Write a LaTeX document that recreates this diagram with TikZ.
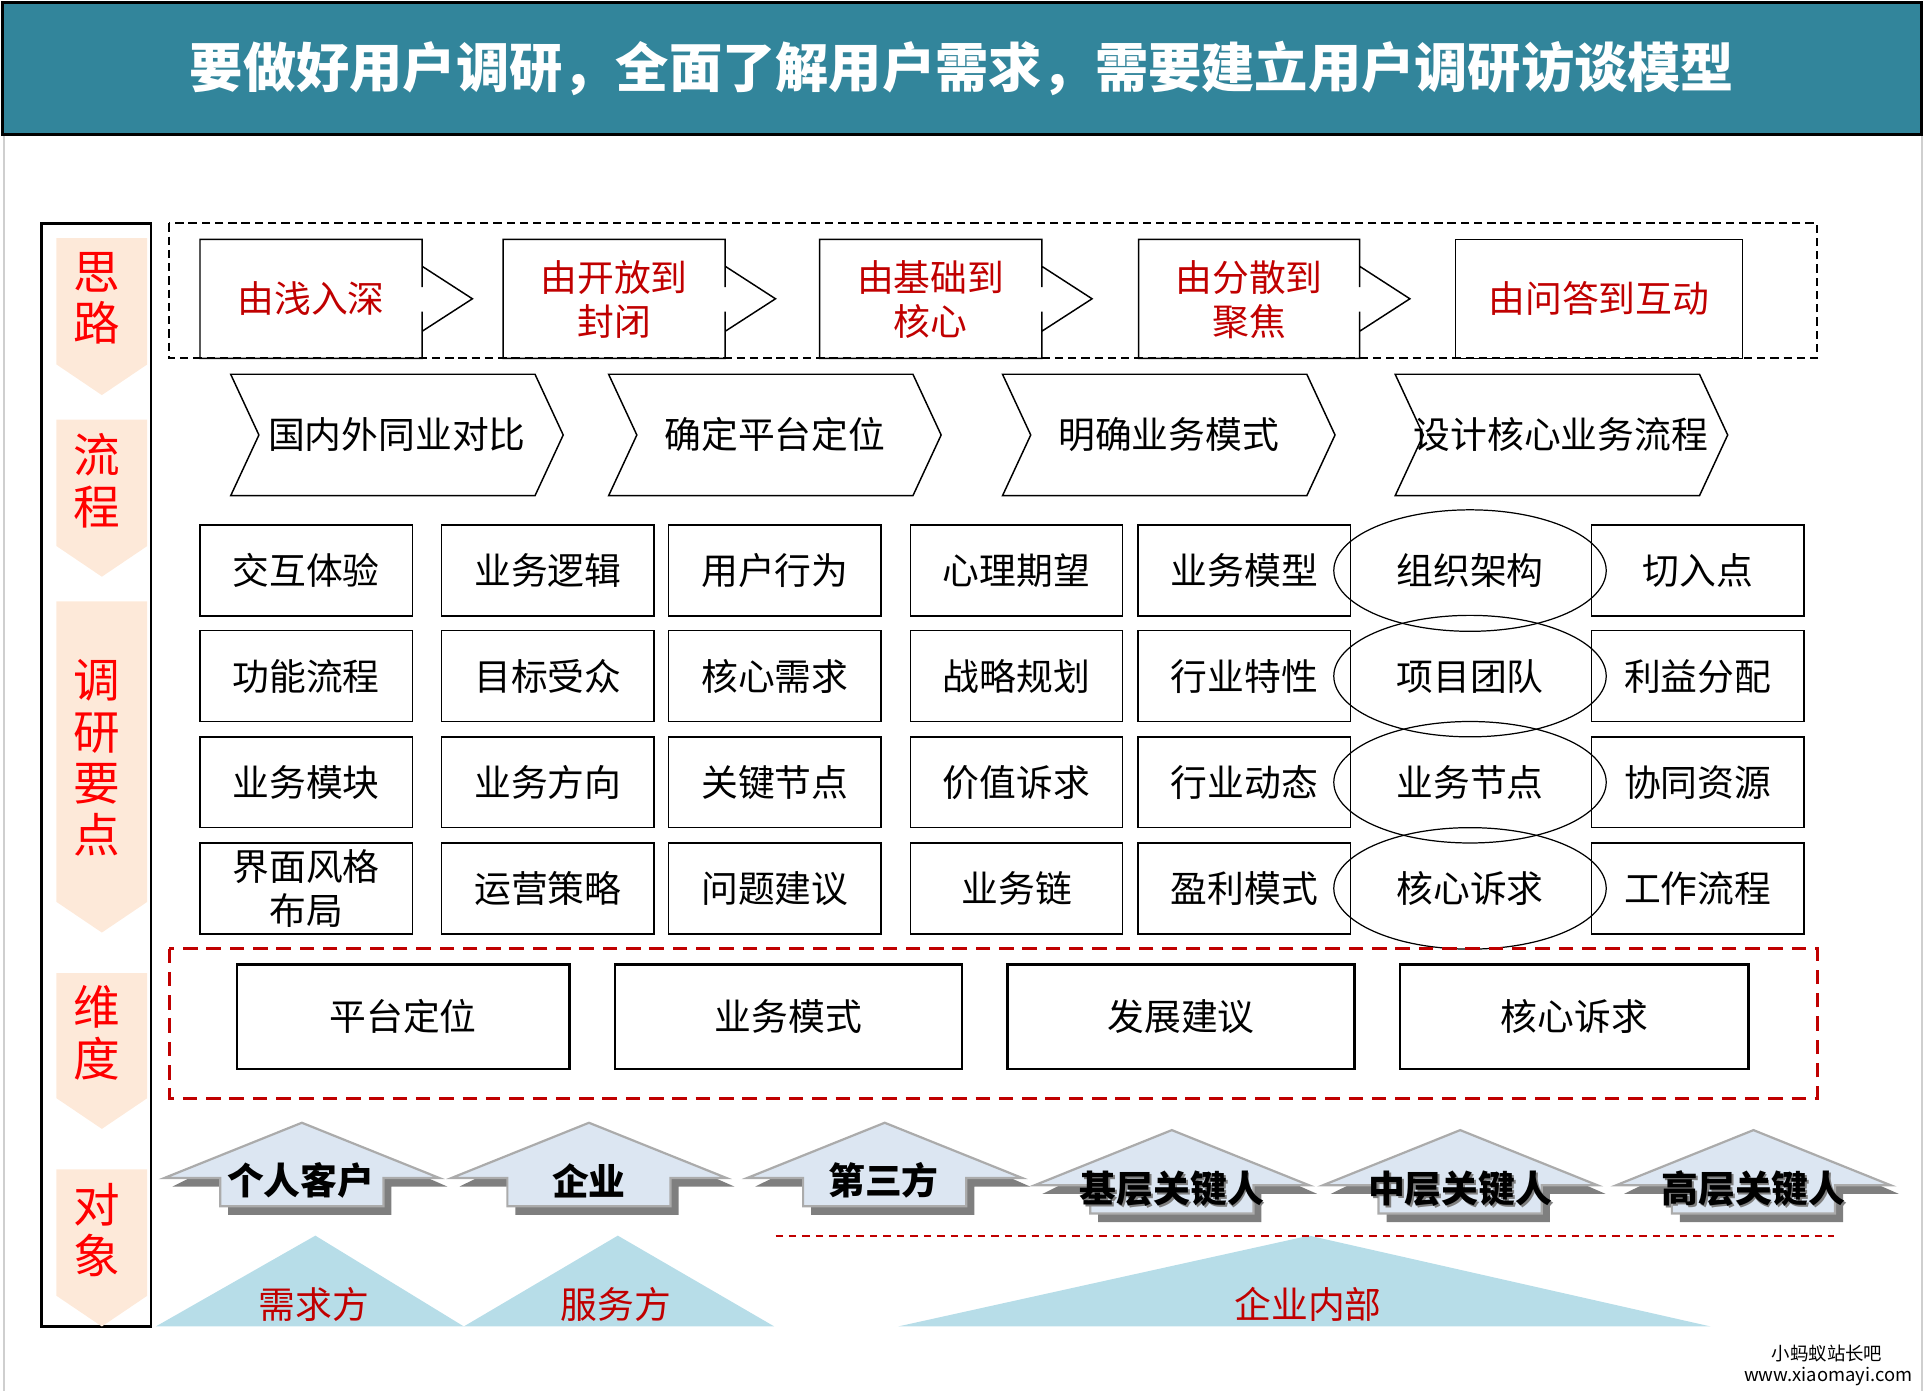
\documentclass[tikz,border=0pt]{standalone}
\usepackage{fontspec}
\setmainfont{Noto Sans CJK SC}
\usetikzlibrary{shapes.geometric}
\definecolor{titlebg}{HTML}{32859B}
\definecolor{peach}{HTML}{FDE9D9}
\definecolor{dred}{HTML}{C00000}
\definecolor{arrowfill}{HTML}{DCE6F2}
\definecolor{arrowline}{HTML}{ABABAB}
\definecolor{shadowgray}{HTML}{7F7F7F}
\definecolor{tri}{HTML}{B7DDE8}
\definecolor{pagegray}{HTML}{CFCFCF}
\tikzset{
  txt/.style={font=\fontsize{15}{18}\selectfont, align=center, inner sep=0pt},
  redtxt/.style={txt, text=dred},
  sidetxt/.style={font=\fontsize{19}{21}\selectfont, text=red, align=center, inner sep=0pt},
  gridbox/.style={txt, draw, line width=0.6pt, minimum width=86.5pt, minimum height=37pt},
  ellbox/.style={txt, draw, ellipse, line width=0.5pt, minimum width=111pt, minimum height=49.5pt},
  dimbox/.style={txt, draw, line width=1pt, minimum height=42.5pt},
  objtxt/.style={font=\fontsize{15}{18}\selectfont\bfseries, inner sep=0pt},
  thinline/.style={line width=0.6pt, line join=miter},
  sidearrow/.style={fill=peach},
  objarrow/.style={draw=arrowline, fill=arrowfill, line width=0.9pt, line join=miter},
}
\begin{document}
\begin{tikzpicture}[x=0.5pt,y=-0.5pt]
\useasboundingbox (0,0) rectangle (1568,1134);
% page edges
\draw[pagegray, line width=0.8pt] (3,110) -- (3,1134);
\draw[pagegray, line width=0.8pt] (1566,110) -- (1566,1134);
% title
\draw[fill=titlebg, line width=1.2pt] (2,2) rectangle (1566,110);
\node[font=\fontsize{21.7}{26}\selectfont\bfseries, text=white, inner sep=0pt] (title) at (784,56)
  {要做好用户调研，全面了解用户需求，需要建立用户调研访谈模型};
% left column frame
\draw[line width=1pt] (34,182) rectangle (123,1081);
\foreach \t/\b in {194/297, 342/445, 490/735, 793/895, 953/1056}
  \fill[sidearrow] (46,\t) -- (120,\t) -- (120,\b) -- (83,{\b+25}) -- (46,\b) -- cycle;
\node[sidetxt] (s1) at (79,243) {思\\路};
\node[sidetxt] (s2) at (79,392) {流\\程};
\node[sidetxt] (s3) at (79,617.5) {调\\研\\要\\点};
\node[sidetxt] (s4) at (79,841.5) {维\\度};
\node[sidetxt] (s5) at (79,1002.5) {对\\象};
% thinking row
\draw[line width=0.7pt, dash pattern=on 3.4pt off 2pt] (138,182) rectangle (1481,292);
\foreach \L/\R in {163/344, 410/591, 668/849, 928/1108}
  \draw[thinline] (\R,234) -- (\R,195) -- (\L,195) -- (\L,292) -- (\R,292) -- (\R,254)
                  (\R,217) -- ({\R+41},243.5) -- (\R,270);
\draw[thinline] (1186,195) rectangle (1420,292);
\node[redtxt] (i1) at (253.5,243.5) {由浅入深};
\node[redtxt] (i2) at (500.5,244) {由开放到\\封闭};
\node[redtxt] (i3) at (758.5,244) {由基础到\\核心};
\node[redtxt] (i4) at (1018,244) {由分散到\\聚焦};
\node[redtxt] (i5) at (1303,243.5) {由问答到互动};
% process row
\foreach \L in {188, 496, 817, 1137}
  \draw[thinline] (\L,305) -- ({\L+248},305) -- ({\L+271},354.5) -- ({\L+248},404) -- (\L,404) -- ({\L+23},354.5) -- cycle;
\node[txt] (f1) at (323.5,354) {国内外同业对比};
\node[txt] (f2) at (631.5,354) {确定平台定位};
\node[txt] (f3) at (952.5,354) {明确业务模式};
\node[txt] (f4) at (1272,354) {设计核心业务流程};
% research points grid
\node[gridbox] (g11) at (249.5,465) {交互体验};
\node[gridbox] (g12) at (446.5,465) {业务逻辑};
\node[gridbox] (g13) at (631.5,465) {用户行为};
\node[gridbox] (g14) at (828.5,465) {心理期望};
\node[gridbox] (g15) at (1014,465) {业务模型};
\node[gridbox] (g17) at (1383.5,465) {切入点};
\node[gridbox] (g21) at (249.5,551) {功能流程};
\node[gridbox] (g22) at (446.5,551) {目标受众};
\node[gridbox] (g23) at (631.5,551) {核心需求};
\node[gridbox] (g24) at (828.5,551) {战略规划};
\node[gridbox] (g25) at (1014,551) {行业特性};
\node[gridbox] (g27) at (1383.5,551) {利益分配};
\node[gridbox] (g31) at (249.5,637.5) {业务模块};
\node[gridbox] (g32) at (446.5,637.5) {业务方向};
\node[gridbox] (g33) at (631.5,637.5) {关键节点};
\node[gridbox] (g34) at (828.5,637.5) {价值诉求};
\node[gridbox] (g35) at (1014,637.5) {行业动态};
\node[gridbox] (g37) at (1383.5,637.5) {协同资源};
\node[gridbox] (g41) at (249.5,724) {界面风格\\布局};
\node[gridbox] (g42) at (446.5,724) {运营策略};
\node[gridbox] (g43) at (631.5,724) {问题建议};
\node[gridbox] (g44) at (828.5,724) {业务链};
\node[gridbox] (g45) at (1014,724) {盈利模式};
\node[gridbox] (g47) at (1383.5,724) {工作流程};
\node[ellbox] (g16) at (1198,465) {组织架构};
\node[ellbox] (g26) at (1198,551) {项目团队};
\node[ellbox] (g36) at (1198,637.5) {业务节点};
\node[ellbox] (g46) at (1198,724) {核心诉求};
% dimensions
\draw[dred, line width=1.25pt, dash pattern=on 5.9pt off 3.6pt] (138,773) rectangle (1481,895);
\node[dimbox, minimum width=135.5pt] (d1) at (328.5,828.5) {平台定位};
\node[dimbox, minimum width=141.5pt] (d2) at (642.5,828.5) {业务模式};
\node[dimbox, minimum width=141.5pt] (d3) at (962.5,828.5) {发展建议};
\node[dimbox, minimum width=142pt] (d4) at (1283,828.5) {核心诉求};
% triangles
\fill[tri] (127,1081) -- (257,1007) -- (378,1081) -- cycle;
\fill[tri] (378,1081) -- (503.5,1007) -- (631,1081) -- cycle;
\fill[tri] (732,1081) -- (1067,1007) -- (1394,1081) -- cycle;
\draw[dred, line width=0.7pt, dash pattern=on 3pt off 2.5pt] (632,1007) -- (1495,1007);
\node[redtxt] (t1) at (256,1063) {需求方};
\node[redtxt] (t2) at (502,1063) {服务方};
\node[redtxt] (t3) at (1066,1063) {企业内部};
% object arrows
\foreach \cx/\ap/\bs/\bt in {246/915/960/983, 480/915/960/983, 721/915/960/983, 955/921/966/989, 1190/921/966/989, 1429/921/966/989}{
  \fill[shadowgray] (\cx,\ap) -- ({\cx+118.5},{\bs+7}) -- ({\cx+73},{\bs+7}) -- ({\cx+73},{\bt+7})
     -- ({\cx-60},{\bt+7}) -- ({\cx-60},{\bs+7}) -- ({\cx-105.5},{\bs+7}) -- cycle;
  \draw[objarrow] (\cx,\ap) -- ({\cx+112},\bs) -- ({\cx+66.5},\bs) -- ({\cx+66.5},\bt)
     -- ({\cx-66.5},\bt) -- ({\cx-66.5},\bs) -- ({\cx-112},\bs) -- cycle;
}
\node[objtxt] (o1) at (245,962) {个人客户};
\node[objtxt] (o2) at (480,962) {企业};
\node[objtxt] (o3) at (720,962) {第三方};
\node[objtxt, text=shadowgray] (o4s) at (956.5,970.5) {基层关键人};
\node[objtxt, text=shadowgray] (o5s) at (1191.5,970.5) {中层关键人};
\node[objtxt, text=shadowgray] (o6s) at (1430.5,970.5) {高层关键人};
\node[objtxt] (o4) at (955,969) {基层关键人};
\node[objtxt] (o5) at (1190,969) {中层关键人};
\node[objtxt] (o6) at (1429,969) {高层关键人};
% watermark
\node[font=\fontsize{7.5}{9}\selectfont, inner sep=0pt] (w1) at (1489,1103) {小蚂蚁站长吧};
\node[font=\fontsize{7.5}{9}\selectfont, inner sep=0pt] (w2) at (1490,1122) {www.xiaomayi.com};
\end{tikzpicture}
\end{document}
